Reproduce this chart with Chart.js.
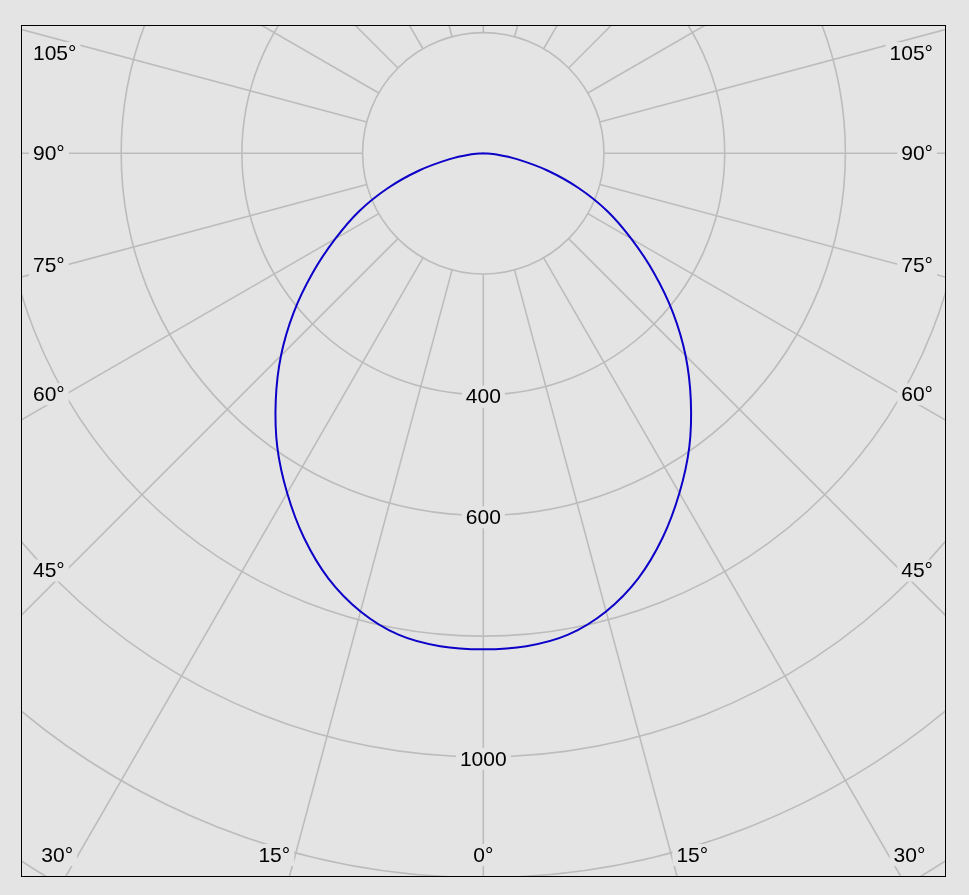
<!DOCTYPE html>
<html><head><meta charset="utf-8">
<script src="https://cdn.jsdelivr.net/npm/chart.js@4.4.0/dist/chart.umd.min.js"></script>
<style>html,body{margin:0;padding:0;background:#e4e4e4;overflow:hidden}#wrap{width:969px;height:895px;position:relative}</style>
</head><body><div id="wrap"><canvas id="c" width="969" height="895"></canvas></div>
<script>
// Photometric data: gamma angle (deg from nadir) and luminous intensity (cd)
const gammaAngles = [-90,-85,-80,-75,-70,-65,-60,-55,-50,-45,-40,-35,-30,-25,-20,-15,-10,-5,0,5,10,15,20,25,30,35,40,45,50,55,60,65,70,75,80,85,90];
const intensity = [0,22,58,110,168,227,283,345,410,474,535,595,650,703,750,786,810,820,822,820,810,786,750,703,650,595,535,474,410,345,283,227,168,110,58,22,0];
// Grid: intensity rings, labelled rings, spoke angles, angle labels
const ringValues = [200,400,600,800,1000,1200,1400];
const ringLabels = [400,600,1000];
const spokeAngles = [0,15,30,45,60,75,90,105,120,135,150,165,180,195,210,225,240,255,270,285,300,315,330,345];
const sideAngleLabels = [105,90,75,60,45];
const bottomAngleLabels = [30,15,0];

const BG = '#e4e4e4';
const GRID = '#bcbcbc';
const FONT = '21px "Liberation Sans", Arial, sans-serif';

const points = gammaAngles.map((g, i) => {
  const r = g * Math.PI / 180;
  return {x: intensity[i] * Math.sin(r), y: -intensity[i] * Math.cos(r)};
});

function labelBox(ctx, text, cx, cy, align) {
  ctx.font = FONT;
  const w = ctx.measureText(text).width;
  let left = cx - w / 2;
  if (align === 'left') left = cx;
  if (align === 'right') left = cx - w;
  ctx.fillStyle = BG;
  ctx.fillRect(left - 4, cy - 11, w + 8, 22);
  ctx.fillStyle = '#000';
  ctx.textAlign = 'left';
  ctx.textBaseline = 'middle';
  ctx.fillText(text, left, cy + 1);
}

const polarGrid = {
  id: 'polarGrid',
  beforeDatasetsDraw(chart) {
    const {ctx, chartArea: a, scales: {x, y}} = chart;
    const cx = x.getPixelForValue(0), cy = y.getPixelForValue(0);
    const toPx = (I, g) => {
      const r = g * Math.PI / 180;
      return [x.getPixelForValue(I * Math.sin(r)), y.getPixelForValue(-I * Math.cos(r))];
    };
    ctx.save();
    ctx.beginPath();
    ctx.rect(a.left, a.top, a.right - a.left, a.bottom - a.top);
    ctx.clip();
    ctx.strokeStyle = GRID;
    ctx.lineWidth = 1.6;
    ringValues.forEach(v => {
      const r = x.getPixelForValue(v) - cx;
      ctx.beginPath(); ctx.arc(cx, cy, r, 0, Math.PI * 2); ctx.stroke();
    });
    spokeAngles.forEach(g => {
      const p0 = toPx(ringValues[0], g), p1 = toPx(4000, g);
      ctx.beginPath(); ctx.moveTo(p0[0], p0[1]); ctx.lineTo(p1[0], p1[1]); ctx.stroke();
    });
    // ring labels
    ringLabels.forEach(v => {
      labelBox(ctx, String(v), cx, y.getPixelForValue(-v) + 2, 'center');
    });
    // side angle labels
    const inset = 45;
    sideAngleLabels.forEach(g => {
      const r = g * Math.PI / 180;
      const D = cx - (a.left + inset);
      let yy = cy + D * Math.cos(r) / Math.sin(r);
      yy = Math.max(a.top + 28, Math.min(a.bottom - 22, yy));
      labelBox(ctx, g + '°', a.left + 12, yy, 'left');
      labelBox(ctx, g + '°', a.right - 13, yy, 'right');
    });
    // bottom angle labels
    const yb = a.bottom - 22;
    bottomAngleLabels.forEach(g => {
      const r = g * Math.PI / 180;
      const off = (yb - cy) * Math.tan(r);
      const shift = g === 0 ? 0 : 21;
      labelBox(ctx, g + '°', cx - off - shift, yb, 'center');
      if (g !== 0) labelBox(ctx, g + '°', cx + off + shift, yb, 'center');
    });
    ctx.restore();
  },
  afterDraw(chart) {
    const {ctx, chartArea: a} = chart;
    ctx.save();
    ctx.strokeStyle = '#000';
    ctx.lineWidth = 1;
    ctx.strokeRect(a.left + 0.5, a.top + 0.5, a.right - a.left - 1, a.bottom - a.top - 1);
    ctx.restore();
  }
};

const bgPlugin = {
  id: 'bg',
  beforeDraw(chart) {
    const {ctx, width, height} = chart;
    ctx.save(); ctx.fillStyle = BG; ctx.fillRect(0, 0, width, height); ctx.restore();
  }
};

new Chart(document.getElementById('c'), {
  type: 'scatter',
  data: {datasets: [{
    label: 'C0-C180',
    data: points,
    showLine: true,
    borderColor: 'rgb(12,0,200)',
    borderWidth: 2,
    pointRadius: 0,
    tension: 0.3,
    fill: false
  }]},
  options: {
    responsive: false,
    animation: false,
    layout: {padding: {left: 21, top: 25, right: 23, bottom: 18}},
    plugins: {legend: {display: false}, tooltip: {enabled: false}},
    scales: {
      x: {type: 'linear', display: false, min: -766.0, max: 766.7},
      y: {type: 'linear', display: false, min: -1199.2, max: 212.6}
    }
  },
  plugins: [bgPlugin, polarGrid]
});
</script>
</body></html>
